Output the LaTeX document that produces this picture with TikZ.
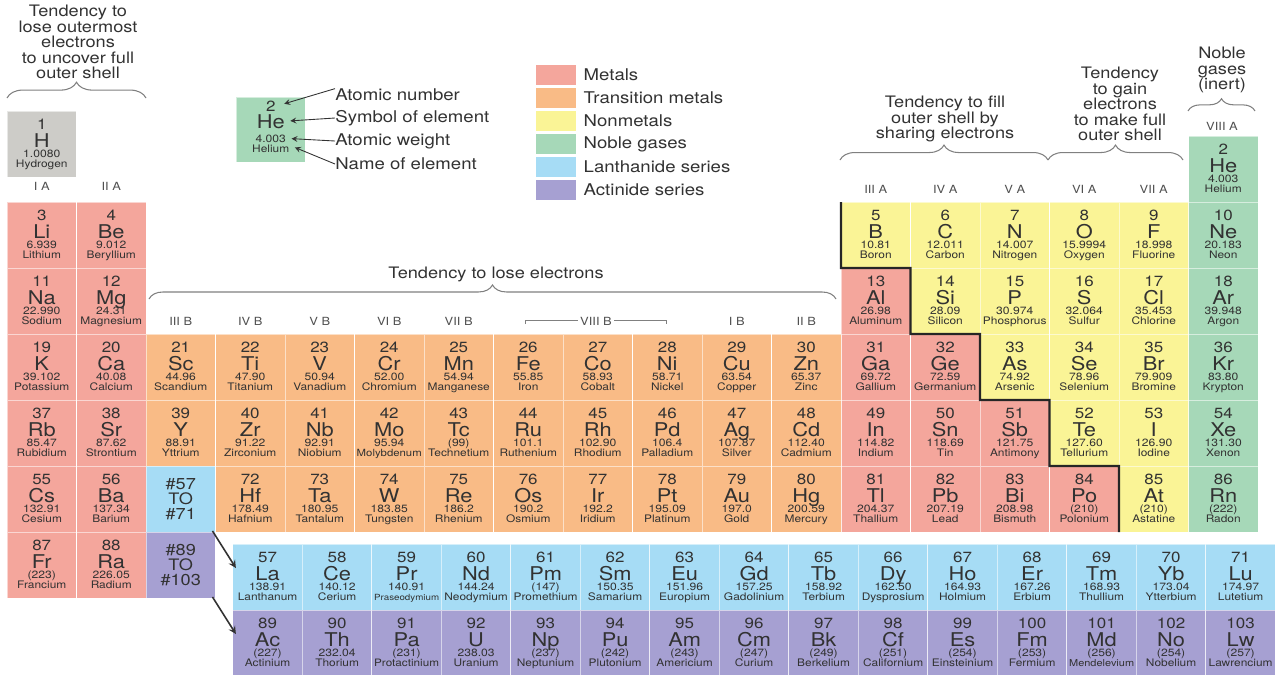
\documentclass[tikz,border=0pt]{standalone}
\usepackage{fontspec}
\setmainfont{TeX Gyre Heros}[FakeStretch=1.15]
\usepackage{tikz}
\usetikzlibrary{positioning,calc,arrows.meta,decorations.pathreplacing}

\definecolor{ink}{RGB}{50,50,50}
\definecolor{metal}{RGB}{244,166,156}
\definecolor{trans}{RGB}{249,187,134}
\definecolor{nonmetal}{RGB}{250,244,150}
\definecolor{noble}{RGB}{166,216,184}
\definecolor{lanth}{RGB}{166,220,245}
\definecolor{actin}{RGB}{166,160,210}
\definecolor{hydro}{RGB}{205,204,200}

\newsavebox{\namebox}
\newcommand{\fitname}[1]{\sbox{\namebox}{#1}\ifdim\wd\namebox>37pt\resizebox{37pt}{!}{#1}\else#1\fi}

% one element cell: column, top, colour, number, symbol, weight, name
\newcommand{\elem}[7]{%
  \node[cell,fill=#3] (#5) at ({7+69.5*(#1-1)},#2) {};
  \node[anum]  (#5-n) at ($(#5.north)+(0,18.5)$) {#4};
  \node[asym]  (#5-s) at ($(#5.north)+(0,36)$) {#5};
  \node[awt]   (#5-w) at ($(#5.north)+(0,46.5)$) {#6};
  \node[aname] (#5-m) at ($(#5.north)+(0,56.5)$) {\fitname{#7}};
}

\tikzset{
  cell/.style={rectangle,anchor=north west,minimum width=1.39cm,minimum height=1.32cm,
    inner sep=0pt,outer sep=0pt,draw=white,draw opacity=0.55,line width=0.5pt},
  anum/.style={anchor=base,inner sep=0pt,text=ink,font=\fontsize{8.4}{9}\selectfont},
  asym/.style={anchor=base,inner sep=0pt,text=ink,font=\fontsize{10.8}{12}\selectfont},
  awt/.style={anchor=base,inner sep=0pt,text=ink,font=\fontsize{6}{6.5}\selectfont},
  aname/.style={anchor=base,inner sep=0pt,text=ink,font=\fontsize{5.9}{6.5}\selectfont},
  grp/.style={text=ink!85,font=\fontsize{6.4}{7}\selectfont,inner sep=1pt},
  note/.style={align=center,text=ink,font=\fontsize{9}{8.9}\selectfont,inner sep=0pt},
  curly/.style={decorate,decoration={brace,amplitude=#1},draw=gray,line width=0.6pt},
  stair/.style={line width=1.3pt,draw=black!85},
  bigarrow/.style={->,>=stealth,line width=0.9pt,draw=ink},
  keyarrow/.style={->,>=stealth,line width=0.5pt,draw=ink},
  keybox/.style={minimum width=0.8cm,minimum height=0.4cm,inner sep=0pt},
  keytext/.style={text=ink,font=\fontsize{9.2}{10}\selectfont,inner sep=0pt},
  refcell/.style={cell,align=center,text=ink,font=\fontsize{9}{8.6}\selectfont}
}

\begin{document}
\begin{tikzpicture}[x=0.02cm,y=-0.02cm]
\useasboundingbox (0,0) rectangle (1278,674);

% headings and braces
\node[note] (hleft) at (78,42) {Tendency to\\lose outermost\\electrons\\to uncover full\\outer shell};
\draw[curly=9pt] (7,98) -- (146,98);
\node[note] (htrans) at (496,274) {Tendency to lose electrons};
\draw[curly=8pt] (149,299) -- (836,299);
\node[note] (hshare) at (945,119) {Tendency to fill\\outer shell by\\sharing electrons};
\draw[curly=8.5pt] (840,160) -- (1048,160);
\node[note] (hgain) at (1120,104) {Tendency\\to gain\\electrons\\to make full\\outer shell};
\draw[curly=8.5pt] (1048,160) -- (1183,160);
\node[note] (hnoble) at (1222,70) {Noble\\gases\\(inert)};
\draw[curly=7pt] (1188,111) -- (1255,111);

% group labels
\foreach \gx/\lab in {1/I A,2/II A}
  \node[grp] (ga\gx) at ({7+69.5*(\gx-0.5)},186) {\lab};
\foreach \gx/\lab in {3/III B,4/IV B,5/V B,6/VI B,7/VII B,11/I B,12/II B}
  \node[grp] (gb\gx) at ({7+69.5*(\gx-0.5)},321) {\lab};
\foreach \gx/\lab in {13/III A,14/IV A,15/V A,16/VI A,17/VII A}
  \node[grp] (ga\gx) at ({7+69.5*(\gx-0.5)},189) {\lab};
\node[grp] (ga18) at (1222,126) {VIII A};
\draw[gray,line width=0.5pt] (525,324) -- (525,320) -- (666,320) -- (666,324);
\node[grp,fill=white] (gb8) at (596,321) {VIII B};

% legend
\foreach \i/\col/\txt in {0/metal/Metals,1/trans/Transition metals,2/nonmetal/Nonmetals,
  3/noble/Noble gases,4/lanth/Lanthanide series,5/actin/Actinide series}{
  \node[keybox,fill=\col] (k\i) at (556,{75+23*\i}) {};
  \node[keytext,anchor=west,right=0.14cm of k\i] (kt\i) {\txt};
}

% sample cell
\node[cell,fill=noble,minimum height=1.3cm] (key) at (236,97) {};
\node[anum]  (knum)  at ($(key.north)+(0,14.5)$) {2};
\node[asym]  (ksym)  at ($(key.north)+(0,31)$) {He};
\node[awt]   (kwt)   at ($(key.north)+(0,45)$) {4.003};
\node[aname] (kname) at ($(key.north)+(0,55)$) {Helium};
\node[keytext,anchor=west] (lnum)  at (335,95)  {Atomic number};
\node[keytext,anchor=west] (lsym)  at (335,118) {Symbol of element};
\node[keytext,anchor=west] (lwt)   at (335,141) {Atomic weight};
\node[keytext,anchor=west] (lname) at (335,164) {Name of element};
\draw[keyarrow,shorten >=5pt] (lnum.north west) -- (knum.east);
\draw[keyarrow,shorten >=3pt] (lsym.west) -- (ksym.east);
\draw[keyarrow,shorten >=3pt] (lwt.west) -- (kwt.east);
\draw[keyarrow,shorten >=2pt] (lname.west) -- ($(kname.north east)+(2,2)$);

% main table
\elem{1}{111}{hydro}{1}{H}{1.0080}{Hydrogen}
\foreach \gx/\ty/\zn/\sy/\wt/\nm in {1/202/3/Li/6.939/Lithium,2/202/4/Be/9.012/Beryllium,
  1/268/11/Na/22.990/Sodium,2/268/12/Mg/24.31/Magnesium,13/268/13/Al/26.98/Aluminum,
  1/334/19/K/39.102/Potassium,2/334/20/Ca/40.08/Calcium,13/334/31/Ga/69.72/Gallium,14/334/32/Ge/72.59/Germanium,
  1/400/37/Rb/85.47/Rubidium,2/400/38/Sr/87.62/Strontium,13/400/49/In/114.82/Indium,14/400/50/Sn/118.69/Tin,15/400/51/Sb/121.75/Antimony,
  1/466/55/Cs/132.91/Cesium,2/466/56/Ba/137.34/Barium,13/466/81/Tl/204.37/Thallium,14/466/82/Pb/207.19/Lead,15/466/83/Bi/208.98/Bismuth,16/466/84/Po/(210)/Polonium,
  1/532/87/Fr/(223)/Francium,2/532/88/Ra/226.05/Radium}
  {\elem{\gx}{\ty}{metal}{\zn}{\sy}{\wt}{\nm}}
\foreach \gx/\ty/\zn/\sy/\wt/\nm in {3/334/21/Sc/44.96/Scandium,4/334/22/Ti/47.90/Titanium,5/334/23/V/50.94/Vanadium,
  6/334/24/Cr/52.00/Chromium,7/334/25/Mn/54.94/Manganese,8/334/26/Fe/55.85/Iron,9/334/27/Co/58.93/Cobalt,
  10/334/28/Ni/58.71/Nickel,11/334/29/Cu/63.54/Copper,12/334/30/Zn/65.37/Zinc,
  3/400/39/Y/88.91/Yttrium,4/400/40/Zr/91.22/Zirconium,5/400/41/Nb/92.91/Niobium,6/400/42/Mo/95.94/Molybdenum,
  7/400/43/Tc/(99)/Technetium,8/400/44/Ru/101.1/Ruthenium,9/400/45/Rh/102.90/Rhodium,10/400/46/Pd/106.4/Palladium,
  11/400/47/Ag/107.87/Silver,12/400/48/Cd/112.40/Cadmium,
  4/466/72/Hf/178.49/Hafnium,5/466/73/Ta/180.95/Tantalum,6/466/74/W/183.85/Tungsten,7/466/75/Re/186.2/Rhenium,
  8/466/76/Os/190.2/Osmium,9/466/77/Ir/192.2/Iridium,10/466/78/Pt/195.09/Platinum,11/466/79/Au/197.0/Gold,12/466/80/Hg/200.59/Mercury}
  {\elem{\gx}{\ty}{trans}{\zn}{\sy}{\wt}{\nm}}
\foreach \gx/\ty/\zn/\sy/\wt/\nm in {13/202/5/B/10.81/Boron,14/202/6/C/12.011/Carbon,15/202/7/N/14.007/Nitrogen,
  16/202/8/O/15.9994/Oxygen,17/202/9/F/18.998/Fluorine,
  14/268/14/Si/28.09/Silicon,15/268/15/P/30.974/Phosphorus,16/268/16/S/32.064/Sulfur,17/268/17/Cl/35.453/Chlorine,
  15/334/33/As/74.92/Arsenic,16/334/34/Se/78.96/Selenium,17/334/35/Br/79.909/Bromine,
  16/400/52/Te/127.60/Tellurium,17/400/53/I/126.90/Iodine,17/466/85/At/(210)/Astatine}
  {\elem{\gx}{\ty}{nonmetal}{\zn}{\sy}{\wt}{\nm}}
\foreach \gx/\ty/\zn/\sy/\wt/\nm in {18/136/2/He/4.003/Helium,18/202/10/Ne/20.183/Neon,18/268/18/Ar/39.948/Argon,
  18/334/36/Kr/83.80/Krypton,18/400/54/Xe/131.30/Xenon,18/466/86/Rn/(222)/Radon}
  {\elem{\gx}{\ty}{noble}{\zn}{\sy}{\wt}{\nm}}

\node[refcell,fill=lanth] (lanref) at (146,466) {\#57\\TO\\\#71};
\node[refcell,fill=actin] (actref) at (146,532) {\#89\\TO\\\#103};

% lanthanide and actinide series
\foreach \k/\zn/\sy/\wt/\nm in {1/57/La/138.91/Lanthanum,2/58/Ce/140.12/Cerium,3/59/Pr/140.91/Praseodymium,
  4/60/Nd/144.24/Neodymium,5/61/Pm/(147)/Promethium,6/62/Sm/150.35/Samarium,7/63/Eu/151.96/Europium,
  8/64/Gd/157.25/Gadolinium,9/65/Tb/158.92/Terbium,10/66/Dy/162.50/Dysprosium,11/67/Ho/164.93/Holmium,
  12/68/Er/167.26/Erbium,13/69/Tm/168.93/Thullium,14/70/Yb/173.04/Ytterbium,15/71/Lu/174.97/Lutetium}
  {\elem{\k+3.25}{544}{lanth}{\zn}{\sy}{\wt}{\nm}}
\foreach \k/\zn/\sy/\wt/\nm in {1/89/Ac/(227)/Actinium,2/90/Th/232.04/Thorium,3/91/Pa/(231)/Protactinium,
  4/92/U/238.03/Uranium,5/93/Np/(237)/Neptunium,6/94/Pu/(242)/Plutonium,7/95/Am/(243)/Americium,
  8/96/Cm/(247)/Curium,9/97/Bk/(249)/Berkelium,10/98/Cf/(251)/Californium,11/99/Es/(254)/Einsteinium,
  12/100/Fm/(253)/Fermium,13/101/Md/(256)/Mendelevium,14/102/No/(254)/Nobelium,15/103/Lw/(257)/Lawrencium}
  {\elem{\k+3.25}{610}{actin}{\zn}{\sy}{\wt}{\nm}}

\draw[bigarrow] ($(lanref.south east)+(-3,-1)$) -- ($(La.west)+(3,-9)$);
\draw[bigarrow] ($(actref.south east)+(-3,-1)$) -- ($(Ac.west)+(3,-9)$);

% metal / nonmetal border
\draw[stair] (B.north west) -- (B.south west) -- (Si.north west) -- (Si.south west) -- (As.north west)
  -- (As.south west) -- (Te.north west) -- (Te.south west) -- (At.north west) -- (At.south west);
\end{tikzpicture}
\end{document}
